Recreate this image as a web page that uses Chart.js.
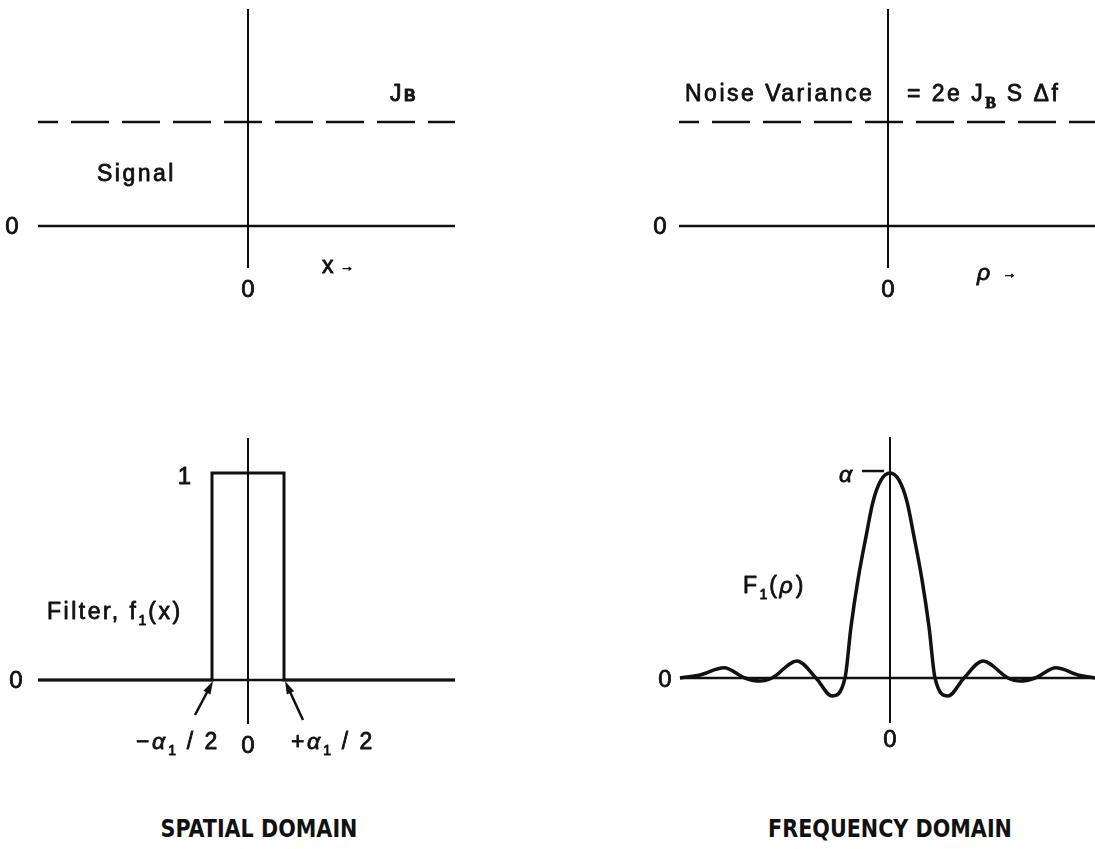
<!DOCTYPE html>
<html>
<head>
<meta charset="utf-8">
<script src="https://cdn.jsdelivr.net/npm/chart.js@4.4.1/dist/chart.umd.min.js"></script>
<style>
  body { margin: 0; background: #fff; }
  #page { position: relative; width: 1095px; height: 849px; overflow: hidden; }
  canvas { position: absolute; }
  .domain {
    position: absolute; top: 828px;
    transform: translate(-50%, -50%) scaleY(1.1);
    font: bold 23px "Liberation Sans Narrow", "DejaVu Sans Condensed", sans-serif;
    color: #111; white-space: nowrap;
  }
</style>
</head>
<body>
<div id="page">
  <canvas id="signal" width="470" height="320" style="left:0;top:0"></canvas>
  <canvas id="noise" width="455" height="320" style="left:640px;top:0"></canvas>
  <canvas id="filter" width="470" height="400" style="left:0;top:400px"></canvas>
  <canvas id="response" width="455" height="400" style="left:640px;top:400px"></canvas>
  <div class="domain" style="left:259px">SPATIAL DOMAIN</div>
  <div class="domain" style="left:890px">FREQUENCY DOMAIN</div>
</div>
<script>
// background level J_B (signal and noise panels)
const levelJB = 1;

// rectangular filter f1(x), half width a1/2
const filterX = [-210, -36, -36, 36, 36, 207];
const filterY = [0, 0, 1, 1, 0, 0];

// its transform F1(rho), peak value a
const responseX = [-210, -190, -166, -145, -130, -118, -93, -74, -58, -45, -39, -32, -24, -17, -9, 0,
                   9, 17, 24, 32, 39, 45, 58, 74, 93, 118, 130, 145, 166, 188, 205];
const responseY = [0, 0.015, 0.05, 0, -0.015, 0, 0.083, 0, -0.088, 0, 0.25, 0.48, 0.69, 0.86, 0.965, 1,
                   0.965, 0.86, 0.69, 0.48, 0.25, 0, -0.088, 0, 0.083, 0, -0.015, 0, 0.05, 0.015, 0];

const INK = '#111';
const SANS = '"Liberation Sans", Arial, sans-serif';

// text weights sit between regular and bold: regular glyphs with a thin outline
const runStyles = {
  n:    { font: '23px ' + SANS, spacing: '2.5px', dy: 0 },
  zero: { font: '24px ' + SANS, spacing: '0px', dy: 0 },
  sub:  { font: '14px ' + SANS, spacing: '2px', dy: 6 },
  cap:  { font: 'bold 16px ' + SANS, spacing: '0px', dy: 0 },
  subB: { font: 'bold 16px "Liberation Serif", serif', spacing: '2px', dy: 7 },
  gr:   { font: 'italic 23px ' + SANS, spacing: '3px', dy: 0 },
  tight:{ font: '23px ' + SANS, spacing: '0px', dy: 0 },
  arr:  { font: 'bold 14px ' + SANS, spacing: '0px', dy: -2 }
};

function toPoints(xs, ys) {
  return xs.map((x, i) => ({ x: x, y: ys[i] }));
}

function drawRuns(ctx, runs, px, py, align) {
  const parts = runs.map(r => {
    const st = runStyles[r[1] || 'n'];
    ctx.font = st.font;
    ctx.letterSpacing = st.spacing;
    return { t: r[0], st: st, w: ctx.measureText(r[0]).width };
  });
  const total = parts.reduce((s, p) => s + p.w, 0);
  let x = align === 'center' ? px - total / 2 : align === 'right' ? px - total : px;
  const base = py + 8.5;
  ctx.lineWidth = 0.8;
  ctx.lineJoin = 'round';
  parts.forEach(p => {
    ctx.font = p.st.font;
    ctx.letterSpacing = p.st.spacing;
    ctx.fillText(p.t, x, base + p.st.dy);
    ctx.strokeText(p.t, x, base + p.st.dy);
    x += p.w;
  });
}

function drawArrow(ctx, x0, y0, x1, y1) {
  const ang = Math.atan2(y1 - y0, x1 - x0);
  const len = 13, half = 4;
  ctx.lineWidth = 2.5;
  ctx.beginPath();
  ctx.moveTo(x0, y0);
  ctx.lineTo(x1 - Math.cos(ang) * len * 0.8, y1 - Math.sin(ang) * len * 0.8);
  ctx.stroke();
  ctx.beginPath();
  ctx.moveTo(x1, y1);
  ctx.lineTo(x1 - Math.cos(ang) * len + Math.sin(ang) * half, y1 - Math.sin(ang) * len - Math.cos(ang) * half);
  ctx.lineTo(x1 - Math.cos(ang) * len - Math.sin(ang) * half, y1 - Math.sin(ang) * len + Math.cos(ang) * half);
  ctx.closePath();
  ctx.fill();
}

// labels, leaders and arrows placed in data units of each panel
const figureText = {
  id: 'figureText',
  afterDatasetsDraw(chart, args, opts) {
    const { ctx } = chart;
    const sx = chart.scales.x, sy = chart.scales.y;
    ctx.save();
    ctx.fillStyle = INK;
    ctx.strokeStyle = INK;
    ctx.textBaseline = 'alphabetic';
    ctx.textAlign = 'left';
    (opts.arrows || []).forEach(a => drawArrow(ctx,
      sx.getPixelForValue(a[0]), sy.getPixelForValue(a[1]),
      sx.getPixelForValue(a[2]), sy.getPixelForValue(a[3])));
    (opts.leaders || []).forEach(l => {
      ctx.lineWidth = 2.5;
      ctx.beginPath();
      ctx.moveTo(sx.getPixelForValue(l[0]), sy.getPixelForValue(l[2]));
      ctx.lineTo(sx.getPixelForValue(l[1]), sy.getPixelForValue(l[2]));
      ctx.stroke();
    });
    (opts.items || []).forEach(it => drawRuns(ctx, it.runs,
      sx.getPixelForValue(it.x), sy.getPixelForValue(it.y), it.align || 'left'));
    ctx.restore();
  }
};

function line(points, width, dash) {
  return {
    data: points,
    showLine: true,
    borderColor: INK,
    borderWidth: width,
    borderDash: dash || [],
    borderDashOffset: dash ? 18 : 0,
    pointRadius: 0,
    fill: false,
    clip: false
  };
}

function axesFor(xr, yr) {
  return [
    line([{ x: xr[0], y: 0 }, { x: xr[1], y: 0 }], 2.5),
    line([{ x: 0, y: yr[0] }, { x: 0, y: yr[1] }], 2)
  ];
}

function makePanel(id, xr, yr, pad, datasets, text) {
  return new Chart(document.getElementById(id), {
    type: 'scatter',
    data: { datasets: axesFor(xr, yr).concat(datasets) },
    options: {
      responsive: false,
      animation: false,
      events: [],
      layout: { padding: pad },
      scales: {
        x: { type: 'linear', min: xr[0], max: xr[1], display: false },
        y: { type: 'linear', min: yr[0], max: yr[1], display: false }
      },
      plugins: {
        legend: { display: false },
        tooltip: { enabled: false },
        figureText: text
      }
    },
    plugins: [figureText]
  });
}

// signal in the spatial domain
makePanel('signal', [-210, 207], [-0.404, 2.087], { left: 38, right: 15, top: 9, bottom: 52 },
  [line([{ x: -210, y: levelJB }, { x: 207, y: levelJB }], 2.7, [38, 13])],
  {
    items: [
      { x: -236, y: 0, align: 'center', runs: [['0', 'zero']] },
      { x: 0, y: -0.6, align: 'center', runs: [['0', 'zero']] },
      { x: -151, y: 0.51, runs: [['Signal']] },
      { x: 142, y: 1.28, runs: [['J'], ['B', 'cap']] },
      { x: 74, y: -0.375, runs: [['x ', 'tight'], ['→', 'arr']] }
    ]
  });

// noise in the frequency domain
makePanel('noise', [-209, 207], [-0.404, 2.087], { left: 39, right: 0, top: 9, bottom: 52 },
  [line([{ x: -209, y: levelJB }, { x: 207, y: levelJB }], 2.7, [38, 13])],
  {
    items: [
      { x: -228, y: 0, align: 'center', runs: [['0', 'zero']] },
      { x: 0, y: -0.6, align: 'center', runs: [['0', 'zero']] },
      { x: -203, y: 1.28, runs: [['Noise Variance']] },
      { x: 19, y: 1.28, runs: [['= 2e J'], ['B', 'subB'], [' S Δf']] },
      { x: 89, y: -0.44, runs: [['ρ ', 'gr'], ['→', 'arr']] }
    ]
  });

// rectangular filter
makePanel('filter', [-210, 207], [-0.2126, 1.169], { left: 38, right: 15, top: 38, bottom: 76 },
  [line(toPoints(filterX, filterY), 3)],
  {
    items: [
      { x: -232, y: 0, align: 'center', runs: [['0', 'zero']] },
      { x: 0, y: -0.314, align: 'center', runs: [['0', 'zero']] },
      { x: -57, y: 0.99, align: 'right', runs: [['1', 'zero']] },
      { x: -201, y: 0.338, runs: [['Filter, f'], ['1', 'sub'], ['(x)']] },
      { x: -70, y: -0.29, align: 'center', runs: [['−'], ['α', 'gr'], ['1', 'sub'], [' / 2']] },
      { x: 85, y: -0.29, align: 'center', runs: [['+'], ['α', 'gr'], ['1', 'sub'], [' / 2']] }
    ],
    arrows: [
      [-53, -0.169, -35, -0.005],
      [55, -0.193, 37, -0.005]
    ]
  });

// filter transfer function
makePanel('response', [-210, 205], [-0.2195, 1.176], { left: 40, right: 0, top: 37, bottom: 77 },
  [Object.assign(line(toPoints(responseX, responseY), 3.5), { cubicInterpolationMode: 'monotone' })],
  {
    items: [
      { x: -225, y: 0, align: 'center', runs: [['0', 'zero']] },
      { x: 0, y: -0.293, align: 'center', runs: [['0', 'zero']] },
      { x: -43, y: 1.0, align: 'center', runs: [['α', 'gr']] },
      { x: -147, y: 0.454, runs: [['F'], ['1', 'sub'], ['('], ['ρ', 'gr'], [')']] }
    ],
    leaders: [[-28, -6, 1.01]]
  });
</script>
</body>
</html>
